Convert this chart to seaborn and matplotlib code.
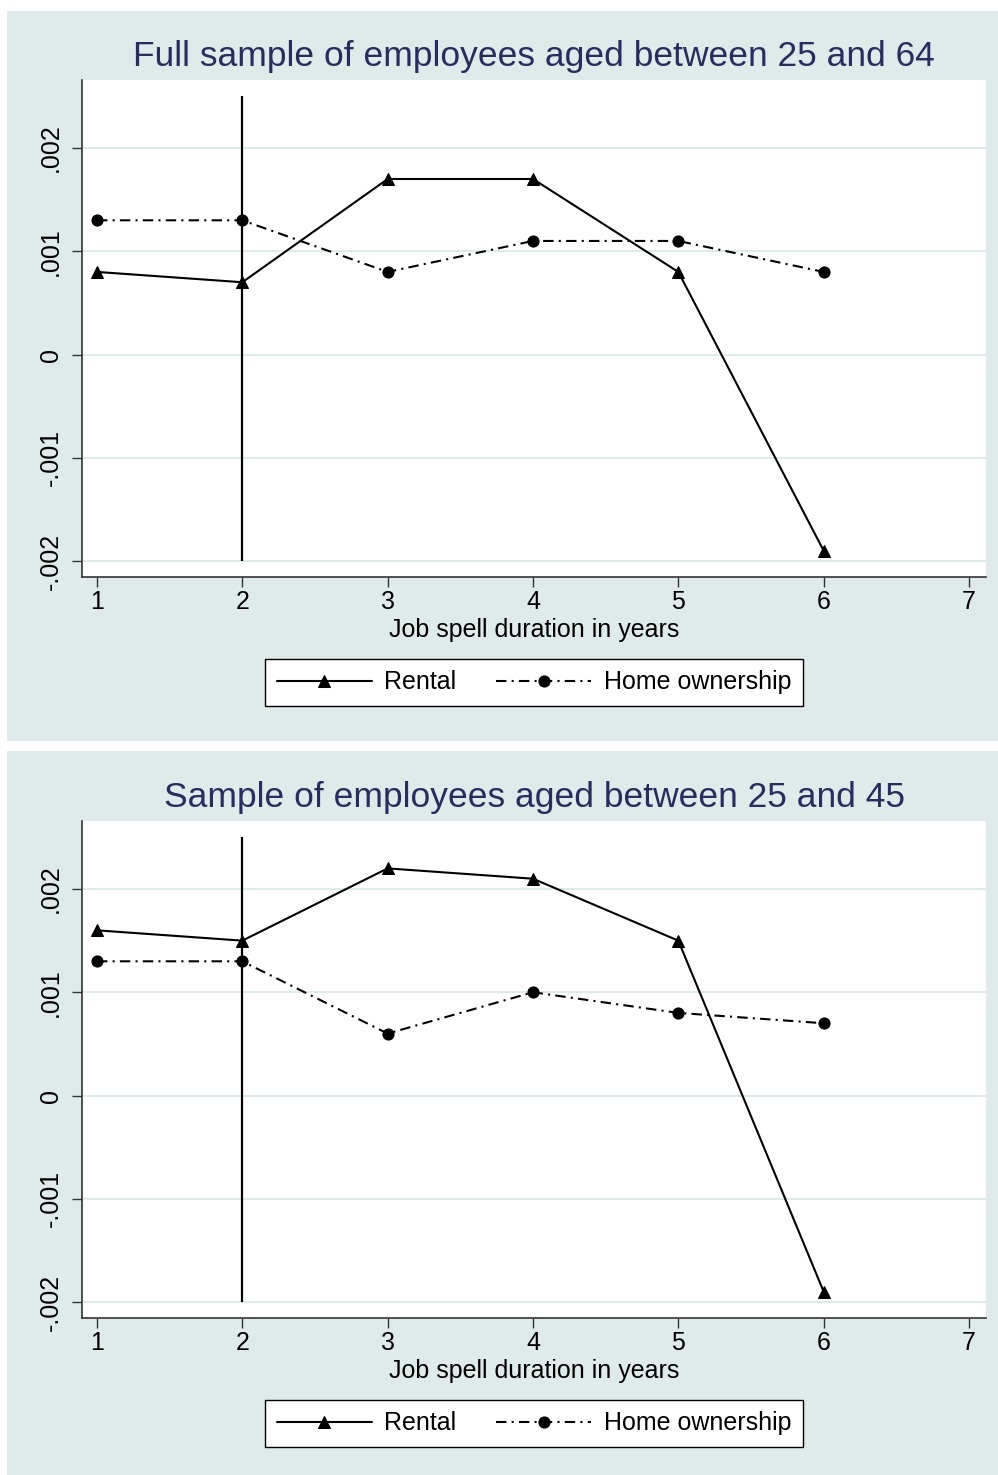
import pandas as pd
import matplotlib.pyplot as plt
import seaborn as sns
from matplotlib.patches import Rectangle

years = [1, 2, 3, 4, 5, 6]

rental_full = [0.0008, 0.0007, 0.0017, 0.0017, 0.0008, -0.0019]
home_full = [0.0013, 0.0013, 0.0008, 0.0011, 0.0011, 0.0008]

rental_young = [0.0016, 0.0015, 0.0022, 0.0021, 0.0015, -0.0019]
home_young = [0.0013, 0.0013, 0.0006, 0.0010, 0.0008, 0.0007]

titles = ["Full sample of employees aged between 25 and 64",
          "Sample of employees aged between 25 and 45"]
yticks = [-0.002, -0.001, 0, 0.001, 0.002]
ytick_labels = ["-.002", "-.001", "0", ".001", ".002"]
xticks = [1, 2, 3, 4, 5, 6, 7]

sns.set_style("white")
plt.rcParams['font.family'] = ['Liberation Sans', 'DejaVu Sans']
plt.rcParams['text.color'] = 'black'
plt.rcParams['axes.labelcolor'] = 'black'
plt.rcParams['xtick.color'] = 'black'
plt.rcParams['ytick.color'] = 'black'

bg = "#dfebeb"
title_col = "#272e5e"

fig = plt.figure(figsize=(9.98, 14.75), dpi=100)

# panel backgrounds
W, H = 998, 1475
for top, bot in [(11, 741), (751, 1475)]:
    fig.patches.append(Rectangle((7 / W, 1 - bot / H), 1 - 7 / W, (bot - top) / H,
                                 transform=fig.transFigure, facecolor=bg,
                                 edgecolor="none", zorder=-5))

panels = [
    (rental_full, home_full, titles[0], 80, 577),
    (rental_young, home_young, titles[1], 821, 1318),
]

for rental, home, title, ptop, pbot in panels:
    ax = fig.add_axes([82 / W, 1 - pbot / H, 904 / W, (pbot - ptop) / H])
    ax.set_facecolor("white")
    df = pd.DataFrame({"year": years, "Rental": rental, "Home ownership": home})

    for v in yticks:
        ax.axhline(v, color=bg, lw=1.5, zorder=1)
    ax.vlines(2, -0.002, 0.0025, color="black", lw=1.6, zorder=2)

    sns.lineplot(data=df, x="year", y="Rental", ax=ax, color="black", lw=1.5,
                 marker="^", markersize=9, markeredgecolor="black",
                 label="Rental", zorder=3)
    sns.lineplot(data=df, x="year", y="Home ownership", ax=ax, color="black",
                 lw=1.5, linestyle=(0, (5, 2.5, 1, 2.5)), marker="o",
                 markersize=8, markeredgecolor="black",
                 label="Home ownership", zorder=3)

    ax.set_xlim(0.897, 7.117)
    ax.set_ylim(-0.002155, 0.002659)
    ax.set_xticks(xticks)
    ax.set_xticklabels([str(x) for x in xticks], fontsize=18)
    ax.set_yticks(yticks)
    ax.set_yticklabels(ytick_labels, fontsize=18, rotation=90, va="center")
    ax.tick_params(axis="x", direction="out", length=7, width=1,
                   color="#333333", pad=2, bottom=True)
    ax.tick_params(axis="y", direction="out", length=7, width=1,
                   color="#333333", pad=7, left=True)
    for s in ["top", "right"]:
        ax.spines[s].set_visible(False)
    for s in ["left", "bottom"]:
        ax.spines[s].set_color("#333333")
        ax.spines[s].set_linewidth(1.2)

    ax.set_xlabel("Job spell duration in years", fontsize=18, labelpad=3)
    ax.set_ylabel("")
    ax.set_title(title, fontsize=25.5, color=title_col, pad=10)

    leg = ax.legend(loc="upper center", bbox_to_anchor=(0.5, -0.14), ncol=2,
                    fontsize=18, frameon=True, fancybox=False, shadow=False,
                    framealpha=1, handlelength=3.8, columnspacing=1.6,
                    borderpad=0.45, borderaxespad=0.5, handletextpad=0.5)
    leg.get_frame().set_edgecolor("black")
    leg.get_frame().set_facecolor("white")
    leg.get_frame().set_linewidth(1.0)

fig.savefig("out.png", dpi=100, facecolor="white")
